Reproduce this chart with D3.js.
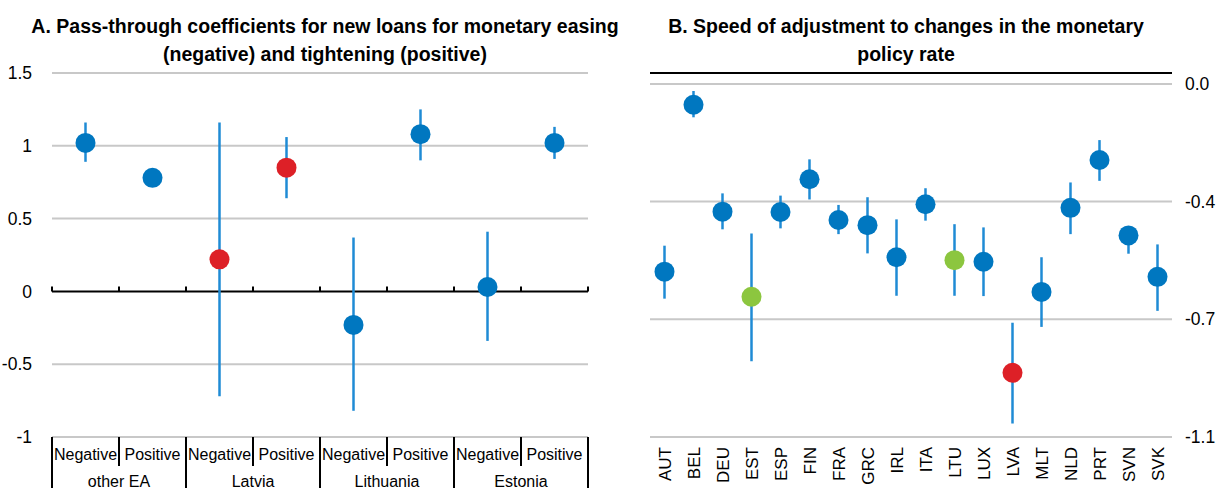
<!DOCTYPE html>
<html>
<head>
<meta charset="utf-8">
<script src="https://cdn.jsdelivr.net/npm/d3@7"></script>
<style>
  body { margin: 0; background: #fff; }
  svg text { font-family: "Liberation Sans Narrow", "Arial Narrow", "Liberation Sans", Arial, sans-serif; fill: #000; }
</style>
</head>
<body>
<div id="chart"></div>
<script>
// ---- data: panel A
var groupsA   = ["other EA", "Latvia", "Lithuania", "Estonia"];
var signsA    = ["Negative", "Positive"];
var valuesA   = [1.02, 0.78, 0.22, 0.85, -0.23, 1.08, 0.03, 1.02];
var lowA      = [0.89, 0.78, -0.72, 0.64, -0.82, 0.90, -0.34, 0.91];
var highA     = [1.16, 0.78, 1.16, 1.06, 0.37, 1.25, 0.41, 1.13];
var colorA    = ["blue", "blue", "red", "red", "blue", "blue", "blue", "blue"];
var ticksA    = [1.5, 1, 0.5, 0, -0.5, -1];
var tickLabA  = ["1.5", "1", "0.5", "0", "-0.5", "-1"];

// ---- data: panel B
var countriesB = ["AUT","BEL","DEU","EST","ESP","FIN","FRA","GRC","IRL","ITA","LTU","LUX","LVA","MLT","NLD","PRT","SVN","SVK"];
var valuesB = [-0.585,-0.065,-0.398,-0.663,-0.399,-0.297,-0.424,-0.440,-0.540,-0.375,-0.549,-0.554,-0.900,-0.648,-0.386,-0.237,-0.472,-0.601];
var highB   = [-0.504,-0.022,-0.341,-0.466,-0.348,-0.235,-0.377,-0.353,-0.422,-0.325,-0.437,-0.447,-0.744,-0.540,-0.307,-0.175,-0.445,-0.500];
var lowB    = [-0.669,-0.104,-0.453,-0.864,-0.450,-0.360,-0.468,-0.528,-0.660,-0.426,-0.660,-0.661,-1.058,-0.757,-0.468,-0.302,-0.529,-0.707];
var colorB  = ["blue","blue","blue","green","blue","blue","blue","blue","blue","blue","green","blue","red","blue","blue","blue","blue","blue"];
var ticksB   = [0, -1.1/3, -2.2/3, -1.1];
var tickLabB = ["0.0", "-0.4", "-0.7", "-1.1"];

var palette = { blue: "#0077c0", red: "#dd2027", green: "#8cc63f" };
var barColor = "#1f8bd5";
var gridColor = "#c8c8c8";

var width = 1222, height = 488;

var svg = d3.select("#chart").append("svg")
    .attr("width", width)
    .attr("height", height);

// ================= Panel A =================
var catsA = [];
groupsA.forEach(function(g) {
    signsA.forEach(function(s) { catsA.push(g + "|" + s); });
});

var xA = d3.scaleBand().domain(catsA).range([52, 588]);
var yA = d3.scaleLinear().domain([-1, 1.5]).range([437, 73]);

var gA = svg.append("g").attr("id", "panelA");

gA.append("text")
    .attr("x", 325).attr("y", 33)
    .attr("text-anchor", "middle")
    .style("font-size", "19.5px").style("font-weight", "bold")
    .text("A. Pass-through coefficients for new loans for monetary easing");
gA.append("text")
    .attr("x", 325).attr("y", 61)
    .attr("text-anchor", "middle")
    .style("font-size", "19.5px").style("font-weight", "bold")
    .text("(negative) and tightening (positive)");

// gridlines
gA.selectAll("line.grid")
    .data(ticksA.filter(function(d) { return d !== 0; }))
    .enter().append("line")
    .attr("class", "grid")
    .attr("x1", 52).attr("x2", 588)
    .attr("y1", function(d) { return yA(d); })
    .attr("y2", function(d) { return yA(d); })
    .attr("stroke", gridColor)
    .attr("stroke-width", 2);

gA.selectAll("text.ytick")
    .data(ticksA)
    .enter().append("text")
    .attr("class", "ytick")
    .attr("x", 32)
    .attr("y", function(d) { return yA(d); })
    .attr("dy", "0.35em")
    .attr("text-anchor", "end")
    .style("font-size", "17.5px")
    .text(function(d, i) { return tickLabA[i]; });

// zero axis with upward ticks at category borders
gA.append("line")
    .attr("x1", 52).attr("x2", 588)
    .attr("y1", yA(0)).attr("y2", yA(0))
    .attr("stroke", "#000").attr("stroke-width", 2);

var bordersA = catsA.map(function(c) { return xA(c); }).concat([588]);
gA.selectAll("line.ztick")
    .data(bordersA)
    .enter().append("line")
    .attr("class", "ztick")
    .attr("x1", function(d) { return d; })
    .attr("x2", function(d) { return d; })
    .attr("y1", yA(0)).attr("y2", yA(0) - 5)
    .attr("stroke", "#000").attr("stroke-width", 2);

// error bars + points
gA.selectAll("line.err")
    .data(catsA)
    .enter().append("line")
    .attr("class", "err")
    .attr("x1", function(d) { return xA(d) + xA.bandwidth() / 2; })
    .attr("x2", function(d) { return xA(d) + xA.bandwidth() / 2; })
    .attr("y1", function(d, i) { return yA(highA[i]); })
    .attr("y2", function(d, i) { return yA(lowA[i]); })
    .attr("stroke", barColor).attr("stroke-width", 2.5);

gA.selectAll("circle.pt")
    .data(catsA)
    .enter().append("circle")
    .attr("class", "pt")
    .attr("cx", function(d) { return xA(d) + xA.bandwidth() / 2; })
    .attr("cy", function(d, i) { return yA(valuesA[i]); })
    .attr("r", 10)
    .attr("fill", function(d, i) { return palette[colorA[i]]; });

// category label boxes
var boxTop = yA(-1);
gA.append("line")
    .attr("x1", 52).attr("x2", 588)
    .attr("y1", boxTop).attr("y2", boxTop)
    .attr("stroke", gridColor).attr("stroke-width", 2);

gA.selectAll("line.sep")
    .data(bordersA)
    .enter().append("line")
    .attr("class", "sep")
    .attr("x1", function(d) { return d; })
    .attr("x2", function(d) { return d; })
    .attr("y1", boxTop)
    .attr("y2", function(d, i) { return i % 2 === 0 ? height : boxTop + 29; })
    .attr("stroke", "#000").attr("stroke-width", 2);

gA.selectAll("text.sign")
    .data(catsA)
    .enter().append("text")
    .attr("class", "sign")
    .attr("x", function(d) { return xA(d) + xA.bandwidth() / 2; })
    .attr("y", boxTop + 23)
    .attr("text-anchor", "middle")
    .style("font-size", "16px")
    .text(function(d) { return d.split("|")[1]; });

gA.selectAll("text.group")
    .data(groupsA)
    .enter().append("text")
    .attr("class", "group")
    .attr("x", function(d) { return xA(d + "|Negative") + xA.bandwidth(); })
    .attr("y", boxTop + 50)
    .attr("text-anchor", "middle")
    .style("font-size", "16px")
    .text(function(d) { return d; });

// ================= Panel B =================
var xB = d3.scaleBand().domain(countriesB).range([650, 1172]);
var yB = d3.scaleLinear().domain([-1.1, 0.034]).range([437, 73]);

var gB = svg.append("g").attr("id", "panelB");

gB.append("text")
    .attr("x", 906).attr("y", 33)
    .attr("text-anchor", "middle")
    .style("font-size", "19.5px").style("font-weight", "bold")
    .text("B. Speed of adjustment to changes in the monetary");
gB.append("text")
    .attr("x", 906).attr("y", 61)
    .attr("text-anchor", "middle")
    .style("font-size", "19.5px").style("font-weight", "bold")
    .text("policy rate");

gB.selectAll("line.grid")
    .data(ticksB)
    .enter().append("line")
    .attr("class", "grid")
    .attr("x1", 650).attr("x2", 1172)
    .attr("y1", function(d) { return yB(d); })
    .attr("y2", function(d) { return yB(d); })
    .attr("stroke", gridColor)
    .attr("stroke-width", 2);

// top border at axis max
gB.append("line")
    .attr("x1", 650).attr("x2", 1172)
    .attr("y1", yB(0.034)).attr("y2", yB(0.034))
    .attr("stroke", "#000").attr("stroke-width", 2);

gB.selectAll("text.ytick")
    .data(ticksB)
    .enter().append("text")
    .attr("class", "ytick")
    .attr("x", 1185)
    .attr("y", function(d) { return yB(d); })
    .attr("dy", "0.35em")
    .style("font-size", "17.5px")
    .text(function(d, i) { return tickLabB[i]; });

gB.selectAll("line.err")
    .data(countriesB)
    .enter().append("line")
    .attr("class", "err")
    .attr("x1", function(d) { return xB(d) + xB.bandwidth() / 2; })
    .attr("x2", function(d) { return xB(d) + xB.bandwidth() / 2; })
    .attr("y1", function(d, i) { return yB(highB[i]); })
    .attr("y2", function(d, i) { return yB(lowB[i]); })
    .attr("stroke", barColor).attr("stroke-width", 2.5);

gB.selectAll("circle.pt")
    .data(countriesB)
    .enter().append("circle")
    .attr("class", "pt")
    .attr("cx", function(d) { return xB(d) + xB.bandwidth() / 2; })
    .attr("cy", function(d, i) { return yB(valuesB[i]); })
    .attr("r", 10)
    .attr("fill", function(d, i) { return palette[colorB[i]]; });

gB.selectAll("text.xlab")
    .data(countriesB)
    .enter().append("text")
    .attr("class", "xlab")
    .attr("transform", function(d) {
        return "translate(" + (xB(d) + xB.bandwidth() / 2 + 6) + "," + (yB(-1.1) + 10) + ") rotate(-90)";
    })
    .attr("text-anchor", "end")
    .style("font-size", "17px")
    .text(function(d) { return d; });
</script>
</body>
</html>
